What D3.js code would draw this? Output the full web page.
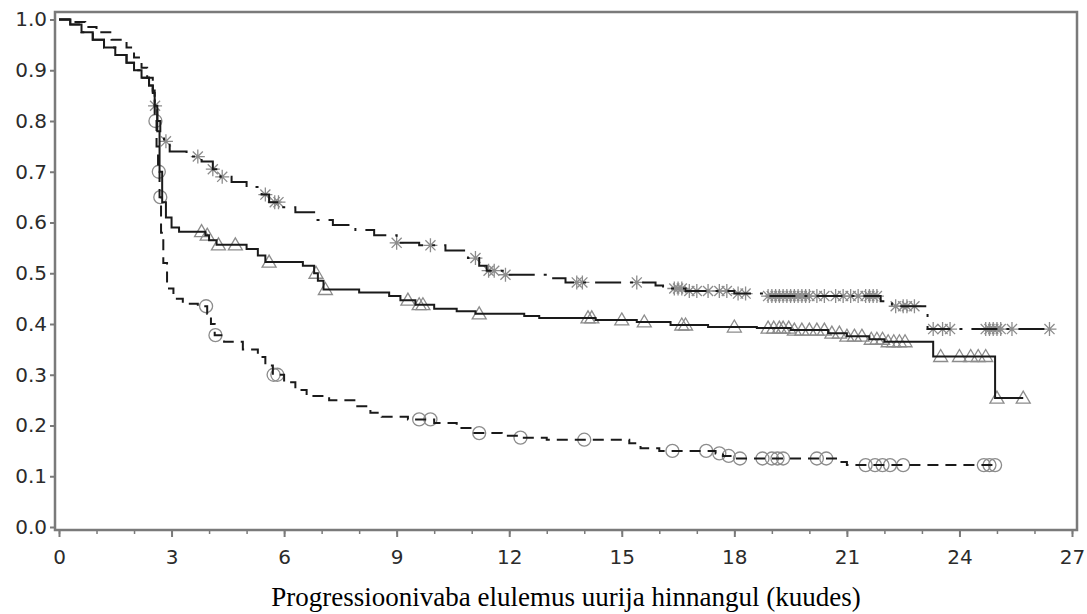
<!DOCTYPE html>
<html>
<head>
<meta charset="utf-8">
<script src="https://cdn.jsdelivr.net/npm/d3@7"></script>
<style>
  html, body { margin: 0; padding: 0; background: #fff; }
  svg { display: block; }
</style>
</head>
<body>
<svg id="chart" width="1087" height="614"></svg>
<script>
// Kaplan–Meier step curves: event times (months) and survival after each step
const starTimes = [0, 0.3, 0.6, 0.9, 1.2, 1.5, 1.8, 2.0, 2.2, 2.4, 2.5, 2.55, 2.62, 2.7, 2.8, 2.95, 3.4, 3.8, 4.1, 4.3, 4.6, 5.0, 5.4, 5.6, 5.9, 6.3, 6.8, 7.3, 7.9, 8.4, 9.0, 9.6, 10.3, 10.9, 11.2, 11.4, 11.9, 13.1, 13.5, 15.9, 16.1, 16.7, 18.0, 18.8, 21.9, 22.2, 23.15];
const starSurv  = [1.0, 0.99, 0.975, 0.96, 0.945, 0.93, 0.915, 0.9, 0.885, 0.87, 0.855, 0.83, 0.80, 0.775, 0.76, 0.74, 0.73, 0.72, 0.705, 0.69, 0.68, 0.67, 0.655, 0.64, 0.63, 0.62, 0.605, 0.595, 0.585, 0.575, 0.56, 0.555, 0.545, 0.53, 0.515, 0.505, 0.497, 0.49, 0.482, 0.476, 0.47, 0.465, 0.46, 0.455, 0.445, 0.435, 0.39];
const starEnd = 26.4;
const starCensor = [2.56, 2.85, 3.7, 4.1, 4.35, 5.5, 5.75, 5.85, 9.0, 9.9, 11.1, 11.45, 11.6, 11.9, 13.8, 13.95, 15.4, 16.4, 16.5, 16.6, 16.8, 17.0, 17.3, 17.6, 17.8, 18.1, 18.3, 18.9, 19.0, 19.1, 19.2, 19.3, 19.4, 19.5, 19.6, 19.7, 19.8, 19.9, 20.0, 20.2, 20.4, 20.7, 20.9, 21.1, 21.3, 21.5, 21.6, 21.7, 21.8, 22.3, 22.5, 22.6, 22.8, 23.3, 23.55, 23.75, 24.7, 24.8, 24.9, 25.0, 25.1, 25.4, 26.4];

const triTimes = [0, 0.3, 0.6, 0.9, 1.2, 1.5, 1.8, 2.0, 2.2, 2.4, 2.5, 2.55, 2.62, 2.68, 2.75, 2.85, 3.0, 3.2, 3.9, 4.0, 4.2, 5.0, 5.3, 5.5, 6.5, 6.8, 6.9, 7.05, 8.0, 8.8, 9.1, 9.5, 10.0, 10.6, 11.1, 12.4, 12.8, 14.3, 15.4, 16.3, 17.3, 18.6, 19.5, 20.5, 21.0, 21.6, 22.0, 23.3, 24.95];
const triSurv  = [1.0, 0.99, 0.975, 0.96, 0.945, 0.93, 0.915, 0.9, 0.885, 0.87, 0.855, 0.83, 0.78, 0.70, 0.64, 0.61, 0.59, 0.582, 0.575, 0.565, 0.556, 0.548, 0.535, 0.522, 0.515, 0.50, 0.485, 0.468, 0.462, 0.455, 0.447, 0.438, 0.43, 0.425, 0.42, 0.416, 0.412, 0.408, 0.404, 0.398, 0.394, 0.392, 0.388, 0.382, 0.376, 0.37, 0.365, 0.336, 0.254];
const triEnd = 25.7;
const triCensor = [3.8, 3.95, 4.25, 4.7, 5.6, 6.85, 7.1, 9.3, 9.6, 9.7, 11.2, 14.1, 14.2, 15.0, 15.6, 16.6, 16.7, 18.0, 18.9, 19.05, 19.2, 19.3, 19.45, 19.6, 19.8, 20.0, 20.2, 20.4, 20.6, 20.8, 21.0, 21.2, 21.4, 21.65, 21.8, 21.95, 22.1, 22.25, 22.4, 22.55, 23.5, 24.0, 24.3, 24.5, 24.7, 25.0, 25.7];

const circTimes = [0, 0.3, 0.7, 1.0, 1.4, 1.8, 2.0, 2.2, 2.35, 2.5, 2.55, 2.6, 2.64, 2.68, 2.72, 2.78, 2.88, 3.05, 3.3, 3.7, 3.95, 4.05, 4.15, 4.4, 4.9, 5.3, 5.5, 5.7, 6.0, 6.3, 6.6, 7.2, 7.9, 8.3, 8.6, 9.3, 10.0, 10.6, 11.0, 11.8, 12.3, 13.0, 15.2, 15.5, 16.0, 17.5, 17.7, 17.95, 20.8, 21.0];
const circSurv  = [1.0, 0.995, 0.985, 0.975, 0.96, 0.945, 0.925, 0.905, 0.885, 0.86, 0.80, 0.75, 0.70, 0.65, 0.58, 0.52, 0.47, 0.45, 0.44, 0.435, 0.42, 0.40, 0.378, 0.365, 0.35, 0.335, 0.318, 0.30, 0.285, 0.27, 0.258, 0.25, 0.238, 0.225, 0.217, 0.212, 0.205, 0.195, 0.185, 0.18, 0.176, 0.172, 0.165, 0.155, 0.15, 0.145, 0.14, 0.135, 0.128, 0.122];
const circEnd = 24.95;
const circCensor = [2.57, 2.66, 2.7, 3.92, 4.17, 5.72, 5.82, 9.6, 9.9, 11.2, 12.3, 14.0, 16.35, 17.25, 17.6, 17.85, 18.15, 18.75, 19.0, 19.15, 19.3, 20.2, 20.45, 21.5, 21.75, 21.95, 22.15, 22.5, 24.65, 24.8, 24.95];

const xTicks = [0, 3, 6, 9, 12, 15, 18, 21, 24, 27];
const xMinorTicks = d3.range(0, 28);
const yTicks = [0, 0.1, 0.2, 0.3, 0.4, 0.5, 0.6, 0.7, 0.8, 0.9, 1.0];
const xTitle = "Progressioonivaba elulemus uurija hinnangul (kuudes)";

const svg = d3.select("#chart");
const x = d3.scaleLinear().domain([0, 27]).range([59, 1072]);
const y = d3.scaleLinear().domain([0, 1]).range([527, 19.5]);
const frame = { left: 55, top: 12, right: 1077, bottom: 530 };

const ink = "#1a1a1a";
const markColor = "#8c8c8c";
const axisColor = "#7a7a7a";
const tickFont = "DejaVu Sans, sans-serif";

// minor ticks (months)
svg.append("g")
  .attr("transform", `translate(0,${frame.bottom})`)
  .call(d3.axisBottom(x).tickValues(xMinorTicks).tickSize(4).tickFormat(""))
  .call(g => g.select(".domain").remove())
  .call(g => g.selectAll("line").attr("stroke", axisColor).attr("stroke-width", 1.5));

// major x ticks
svg.append("g")
  .attr("transform", `translate(0,${frame.bottom})`)
  .call(d3.axisBottom(x).tickValues(xTicks).tickSize(7).tickPadding(13).tickFormat(d3.format("d")))
  .call(g => g.select(".domain").remove())
  .call(g => g.selectAll("line").attr("stroke", axisColor).attr("stroke-width", 2))
  .call(g => g.selectAll("text")
    .attr("font-family", tickFont)
    .attr("font-size", 20).attr("fill", "#2b2b2b"));

// y ticks
svg.append("g")
  .attr("transform", `translate(${frame.left},0)`)
  .call(d3.axisLeft(y).tickValues(yTicks).tickSize(5).tickPadding(3).tickFormat(d3.format(".1f")))
  .call(g => g.select(".domain").remove())
  .call(g => g.selectAll("line").attr("stroke", axisColor).attr("stroke-width", 2))
  .call(g => g.selectAll("text")
    .attr("font-family", tickFont)
    .attr("font-size", 20).attr("fill", "#2b2b2b"));

// plot frame
svg.append("rect")
  .attr("x", frame.left).attr("y", frame.top)
  .attr("width", frame.right - frame.left).attr("height", frame.bottom - frame.top)
  .attr("fill", "none").attr("stroke", axisColor).attr("stroke-width", 2.5);

function survAt(times, surv, t) {
  let s = surv[0];
  for (let i = 0; i < times.length; i++) { if (times[i] <= t) s = surv[i]; }
  return s;
}

const line = d3.line().x(d => x(d[0])).y(d => y(d[1])).curve(d3.curveStepAfter);

function stepPoints(times, surv, end) {
  const pts = times.map((t, i) => [t, surv[i]]);
  pts.push([end, surv[surv.length - 1]]);
  return pts;
}

const curves = [
  { times: circTimes, surv: circSurv, end: circEnd, censor: circCensor, dash: "11,7", mark: "circle" },
  { times: triTimes, surv: triSurv, end: triEnd, censor: triCensor, dash: null, mark: "triangle" },
  { times: starTimes, surv: starSurv, end: starEnd, censor: starCensor, dash: "26,9,3,9", mark: "star" }
];

// censor marks drawn beneath the curves
curves.forEach(c => {
  const g = svg.append("g").attr("fill", "none").attr("stroke", markColor).attr("stroke-width", 1.3);
  c.censor.forEach(t => {
    const cx = x(t), cy = y(survAt(c.times, c.surv, t));
    if (c.mark === "circle") {
      g.append("circle").attr("cx", cx).attr("cy", cy).attr("r", 6.5);
    } else if (c.mark === "triangle") {
      g.append("path").attr("d", `M${cx},${cy - 7} L${cx + 7},${cy + 5} L${cx - 7},${cy + 5} Z`);
    } else {
      const r = 7, d = r * 0.72;
      g.append("path").attr("d",
        `M${cx},${cy - r}V${cy + r}M${cx - r},${cy}H${cx + r}` +
        `M${cx - d},${cy - d}L${cx + d},${cy + d}M${cx - d},${cy + d}L${cx + d},${cy - d}`);
    }
  });
});

curves.forEach(c => {
  svg.append("path")
    .datum(stepPoints(c.times, c.surv, c.end))
    .attr("d", line)
    .attr("fill", "none")
    .attr("stroke", ink)
    .attr("stroke-width", 2)
    .attr("stroke-dasharray", c.dash);
});

// x-axis title
svg.append("text")
  .attr("x", 566).attr("y", 606)
  .attr("text-anchor", "middle")
  .attr("font-family", "Liberation Serif, Times New Roman, serif")
  .attr("font-size", 27)
  .attr("fill", "#000")
  .text(xTitle);
</script>
</body>
</html>
